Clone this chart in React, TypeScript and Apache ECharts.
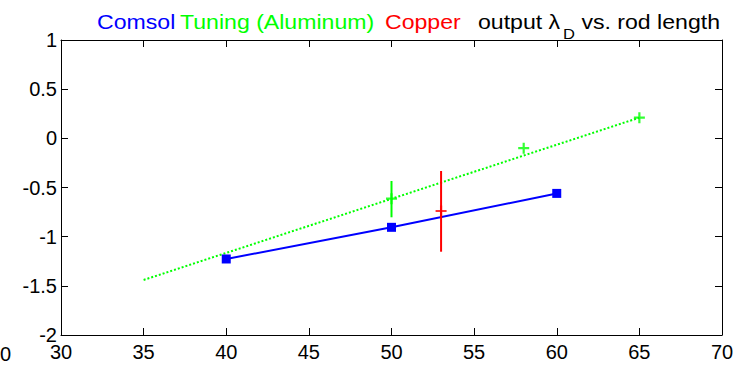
import React, { useEffect, useRef } from "react";
import * as echarts from "echarts";

const comsolX = [40, 50, 60];
const comsolY = [-1.227, -0.905, -0.56];
const tuningFitX = [35, 65];
const tuningFitY = [-1.44, 0.21];
const tuningX = [50, 58, 65];
const tuningY = [-0.614, -0.1, 0.21];
const tuningErrX = 50;
const tuningErrLow = -0.803;
const tuningErrHigh = -0.434;
const copperX = [53];
const copperY = [-0.739];
const copperErrLow = -1.153;
const copperErrHigh = -0.332;
const titleParts = ["Comsol", "Tuning (Aluminum)", "Copper", "output λ", "D", "vs. rod length"];

const FONT = "'Liberation Sans', Arial, sans-serif";
const PLUS = "path://M4,0H6V4H10V6H6V10H4V6H0V4H4Z";

export default function App() {
  const ref = useRef<HTMLDivElement>(null);
  useEffect(() => {
    const chart = echarts.init(ref.current!, null, { renderer: "svg" });
    const xAxisBase = {
      type: "value",
      min: 30,
      max: 70,
      interval: 5,
      axisLine: { show: true, onZero: false, lineStyle: { color: "#000", width: 1 } },
      axisTick: { show: true, inside: true, length: 7, lineStyle: { color: "#000" } },
      splitLine: { show: false },
    };
    const yAxisBase = {
      type: "value",
      min: -2,
      max: 1,
      interval: 0.5,
      axisLine: { show: true, onZero: false, lineStyle: { color: "#000", width: 1 } },
      axisTick: { show: true, inside: true, length: 7, lineStyle: { color: "#000" } },
      splitLine: { show: false },
    };
    const t = (text: string, x: number, y: number, fill: string, size: number, align = "left") => ({
      type: "text",
      x,
      y,
      scaleX: 1.1,
      style: { text, fill, font: `${size}px ${FONT}`, verticalAlign: "middle", align },
    });
    chart.setOption({
      animation: false,
      grid: { left: 61, top: 40, right: 16, bottom: 30, containLabel: false },
      xAxis: [
        {
          ...xAxisBase,
          position: "bottom",
          axisLabel: { show: true, color: "#000", fontSize: 20, fontFamily: FONT, margin: 7 },
        },
        { ...xAxisBase, position: "top", axisLabel: { show: false } },
      ],
      yAxis: [
        {
          ...yAxisBase,
          position: "left",
          axisLabel: { show: true, color: "#000", fontSize: 20, fontFamily: FONT, margin: 4 },
        },
        { ...yAxisBase, position: "right", axisLabel: { show: false } },
      ],
      series: [
        {
          type: "line",
          data: tuningFitX.map((x, i) => [x, tuningFitY[i]]),
          showSymbol: false,
          lineStyle: { color: "#00ff00", width: 2, type: [2, 2] },
          z: 2,
        },
        {
          type: "line",
          data: comsolX.map((x, i) => [x, comsolY[i]]),
          symbol: "rect",
          symbolSize: 9,
          itemStyle: { color: "#0000ff" },
          lineStyle: { color: "#0000ff", width: 2 },
          z: 3,
        },
        {
          type: "line",
          data: [
            [tuningErrX, tuningErrLow],
            [tuningErrX, tuningErrHigh],
          ],
          showSymbol: false,
          lineStyle: { color: "#00ff00", width: 2 },
          z: 4,
        },
        {
          type: "scatter",
          data: tuningX.map((x, i) => [x, tuningY[i]]),
          symbol: PLUS,
          symbolSize: 11,
          itemStyle: { color: "#00ff00" },
          z: 5,
        },
        {
          type: "line",
          data: [
            [copperX[0], copperErrLow],
            [copperX[0], copperErrHigh],
          ],
          showSymbol: false,
          lineStyle: { color: "#ff0000", width: 2 },
          z: 4,
        },
        {
          type: "scatter",
          data: copperX.map((x, i) => [x, copperY[i]]),
          symbol: PLUS,
          symbolSize: 11,
          itemStyle: { color: "#ff0000" },
          z: 5,
        },
      ],
      graphic: [
        t(titleParts[0], 97, 22, "#0000ff", 21),
        t(titleParts[1], 180, 22, "#00ff00", 21),
        t(titleParts[2], 385, 22, "#ff0000", 21),
        t(titleParts[3], 478, 22, "#000", 21),
        t(titleParts[4], 563, 34, "#000", 15),
        t(titleParts[5], 720, 22, "#000", 21, "right"),
        { type: "text", x: 0, y: 354, style: { text: "0", fill: "#000", font: `20px ${FONT}`, verticalAlign: "middle", align: "left" } },
      ],
    });
    return () => chart.dispose();
  }, []);
  return (
    <div
      ref={ref}
      style={{ position: "fixed", left: 0, top: 0, width: 738, height: 365, background: "#fff" }}
    />
  );
}
